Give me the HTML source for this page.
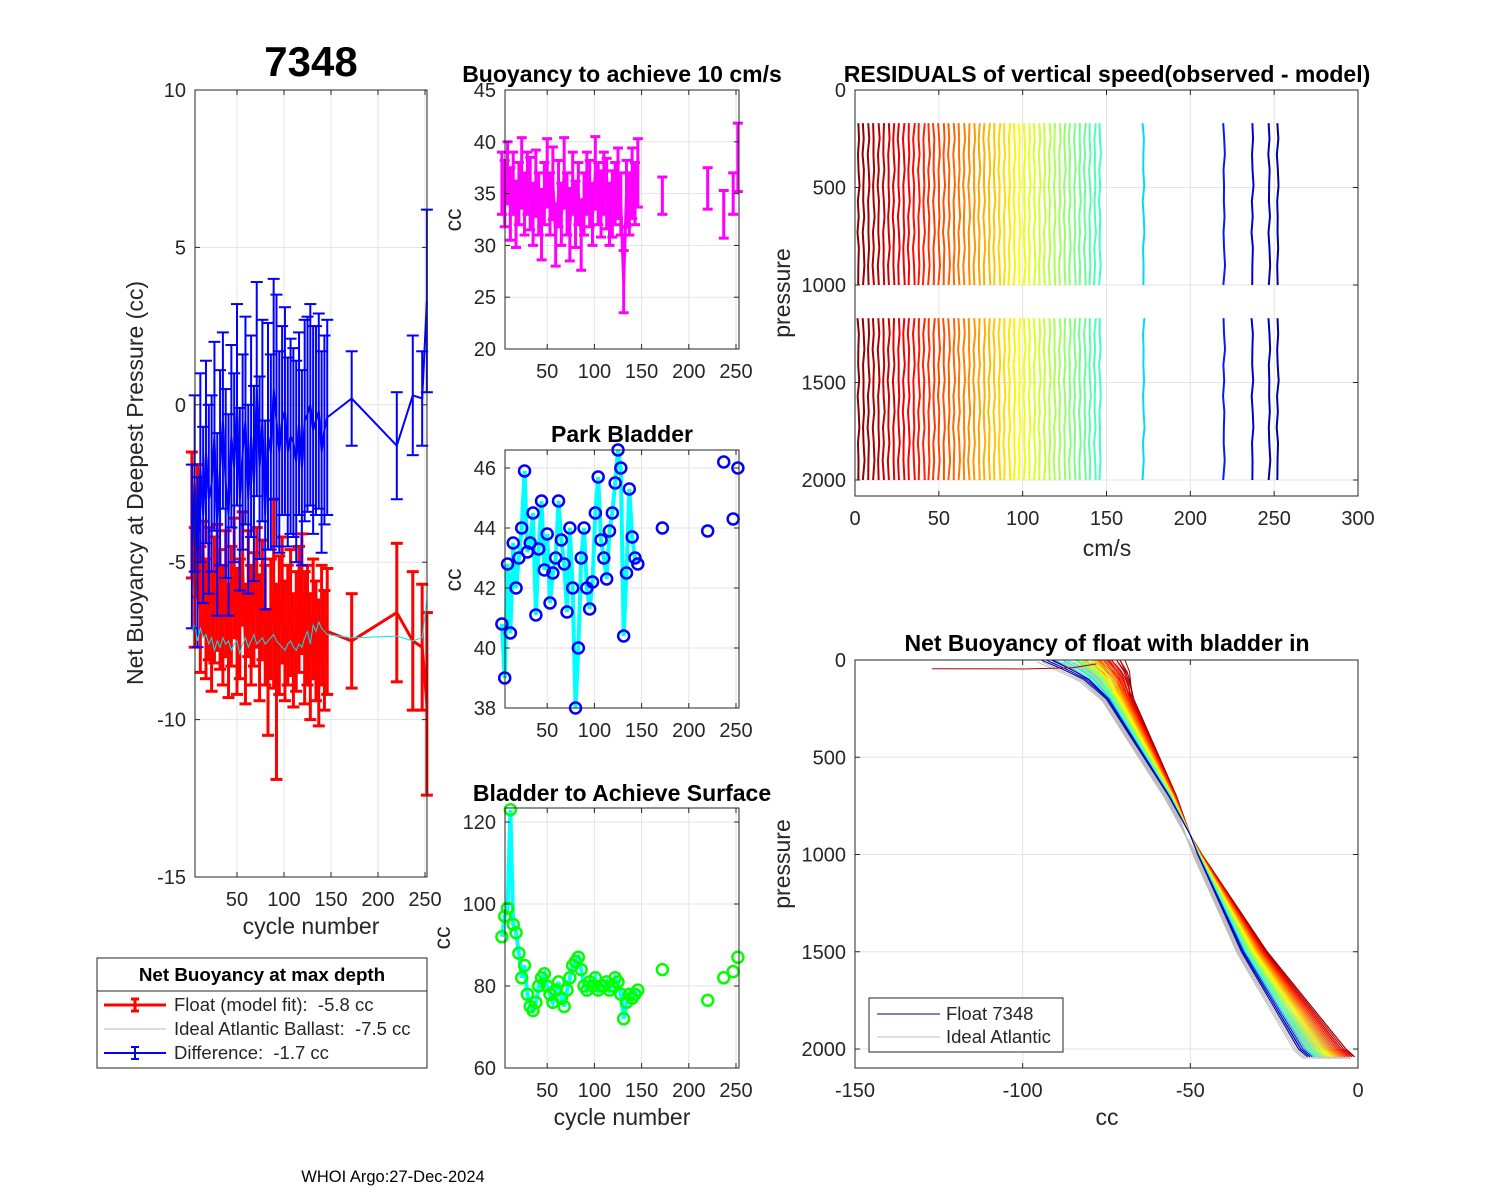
<!DOCTYPE html>
<html><head><meta charset="utf-8"><style>
body{margin:0;background:#fff}
svg{display:block;font-family:"Liberation Sans",Arial,sans-serif}
text{white-space:pre}
</style></head><body>
<svg id="fig" width="1500" height="1200" viewBox="0 0 1500 1200">
<rect width="1500" height="1200" fill="#fff"/>
<g id="root"></g>
</svg>
<script>
// ---- data ----
const cycles=[2,5,8,11,14,17,20,23,26,29,32,35,38,41,44,47,50,53,56,59,62,65,68,71,74,77,80,83,86,89,92,95,98,101,104,107,110,113,116,119,122,125,128,131,134,137,140,143,146,172,220,237,247,252];
const floatVal=[-3.5,-5.8,-4.0,-6.5,-5.5,-6.8,-6.0,-7.2,-6.2,-5.8,-6.5,-7.0,-6.0,-7.5,-6.4,-5.5,-7.2,-6.8,-5.2,-7.6,-6.0,-7.0,-6.5,-5.8,-7.4,-6.2,-7.0,-8.5,-6.8,-6.0,-8.8,-7.0,-6.2,-7.5,-7.0,-6.6,-7.8,-7.2,-6.5,-6.0,-7.4,-7.0,-8.0,-6.8,-7.5,-8.2,-7.0,-7.8,-7.2,-7.5,-6.6,-7.5,-7.7,-9.5];
const floatErr=[2.0,1.9,2.1,2.0,1.8,1.9,2.1,1.9,2.0,2.0,1.9,1.9,2.0,1.8,1.9,1.9,2.0,1.9,1.8,1.9,2.0,1.9,1.8,1.9,2.0,1.9,1.9,2.0,1.9,3.0,3.1,2.2,2.0,1.9,1.9,2.0,1.8,1.9,2.0,1.9,2.1,1.9,2.0,1.9,1.9,2.0,1.9,1.9,2.0,1.5,2.2,2.2,2.0,2.9];
const diffVal=[-4.5,-2.5,-5.0,-2.0,-3.5,-1.5,-3.0,-2.5,-1.0,-3.8,-2.0,-0.5,-2.5,-3.5,-1.0,-2.0,0.0,-3.0,-1.5,-0.5,-3.0,-1.0,-2.5,0.5,-2.0,-0.5,-3.5,-1.0,-1.5,0.5,-0.5,-1.5,-0.5,-0.2,-1.5,-1.0,-1.2,-1.8,-0.6,-2.0,-0.5,-0.3,0.0,-0.8,-0.5,-0.2,-1.5,-0.8,-0.4,0.2,-1.3,0.3,0.2,3.3];
const diffErr=[2.6,2.8,2.7,3.0,2.8,2.9,3.0,2.8,3.0,2.9,3.1,2.8,3.0,3.2,2.9,3.0,3.2,2.9,3.1,3.3,3.0,3.2,3.1,3.4,2.9,3.2,3.0,3.6,3.1,3.5,4.0,3.2,3.0,3.3,3.0,3.1,3.0,3.2,2.9,3.1,3.2,3.1,3.2,3.3,3.0,3.1,3.2,3.0,3.1,1.5,1.7,1.9,1.5,2.9];
const idealVal=[-7.2,-7.0,-7.5,-7.1,-7.4,-7.3,-7.6,-7.4,-7.8,-7.5,-7.7,-7.4,-7.6,-7.5,-7.8,-7.6,-7.5,-7.9,-7.6,-7.4,-7.7,-7.5,-7.3,-7.6,-7.5,-7.4,-7.6,-7.5,-7.4,-7.3,-7.5,-7.6,-7.7,-7.8,-7.6,-7.5,-7.7,-7.8,-7.6,-7.7,-7.4,-7.2,-7.6,-7.0,-7.2,-6.9,-7.1,-7.2,-7.3,-7.4,-7.35,-7.5,-7.4,-6.2];
const buoyVal=[36,35,37,34,36,33,35,37,34,36,35,33,36,34,32,35,37,34,36,31,35,33,37,34,32,36,33,35,31,34,36,35,33,37,35,34,36,35,33,34,35,36,34,26.5,35,34,36,35,37,34.8,35.5,33,35,38.5];
const buoyErr=[3,3.2,3,3.5,3,3.2,3,3.4,3,3,3.5,3,3.2,3,3.4,3,3.3,3,3.5,3,3.2,3,3.4,3,3.5,3,3.2,3,3.4,3,3,3.2,3,3.5,3,3.2,3,3.4,3,3.2,3,3.4,3,3,3.2,3,3.4,3,3.3,1.8,2,2.3,2,3.3];
const parkVal=[40.8,39,42.8,40.5,43.5,42,43,44,45.9,43.2,43.5,44.5,41.1,43.3,44.9,42.6,43.8,41.5,42.5,43,44.9,43.6,42.8,41.2,44,42,38,40,43,44,42,41.3,42.2,44.5,45.7,43.6,43,42.3,43.9,44.5,45.5,46.6,46,40.4,42.5,45.3,43.7,43,42.8,44,43.9,46.2,44.3,46];
const surfVal=[92,97,99,123,95,93,88,82,85,78,75,74,76,80,82,83,80,78,76,79,81,77,75,79,82,85,86,87,84,80,79,81,80,82,79,80,80,81,79,80,82,81,78,72,76,78,77,78,79,84,76.5,82,83.5,87];
const residWiggle=[0,0.4,-0.2,0.1,0.7,-0.3,0.2,-0.5,0.3,0,-0.1,0.5,-0.4,0.2,0.6,-0.2,0.1];
const residPres1=[170,250,330,410,490,570,650,730,810,900,1000];
const residPres2=[1170,1250,1330,1410,1490,1570,1650,1730,1810,1900,2000];
const nbPres=[0,30,60,100,200,300,400,500,700,900,1000,1500,2000,2040];
const nbBase=[-79,-77,-75,-73,-70,-67,-64,-61,-55,-50,-47,-30,-9,-6];
const nbShift=[4,3.5,4,3,3.5,3,3,2.5,3,2.5,2,2.5,2,1.5,2,1,1.5,1,0.5,1,0.5,0,0.5,-0.5,0,-0.5,-1,-0.5,-1,-1.5,-1,-2,-1.5,-2,-2.5,-2,-2.5,-3,-2.5,-3,-3.5,-3,-3.5,-4,-3.5,-4,-4.5,-4,-5,-5,-5.5,-6,-6,-6.5];
const nbShiftTop=[4,6,3,5,2,4,1,3,5,2,0,3,1,-2,2,4,0,-1,3,1,-3,2,0,-2,1,3,-1,0,-4,2,-2,0,1,-3,-1,2,-2,0,-3,1,-1,-2,0,-4,-2,-5,-3,-1,-6,-4,-7,-8,-6,-9];
const legendRows=["Float (model fit):  -5.8 cc","Ideal Atlantic Ballast:  -7.5 cc","Difference:  -1.7 cc"];

// ---- helpers ----
const NS="http://www.w3.org/2000/svg";
const root=document.getElementById('root');
function el(tag,attrs,parent){const e=document.createElementNS(NS,tag);for(const k in attrs)e.setAttribute(k,attrs[k]);(parent||root).appendChild(e);return e;}
function txt(x,y,s,size,anchor,weight,parent,rot,fill){const t=el('text',{x:x,y:y,'font-size':size,'text-anchor':anchor||'middle','font-weight':weight||'normal',fill:fill||'#262626'},parent);if(rot)t.setAttribute('transform','rotate(-90 '+x+' '+y+')');t.textContent=s;return t;}
function lin(d0,d1,r0,r1){return v=>r0+(v-d0)*(r1-r0)/(d1-d0);}
function jet(c){const t=1-c/260;const cl=v=>Math.max(0,Math.min(1,v));const r=cl(1.5-Math.abs(4*t-3)),g=cl(1.5-Math.abs(4*t-2)),b=cl(1.5-Math.abs(4*t-1));return 'rgb('+Math.round(r*255)+','+Math.round(g*255)+','+Math.round(b*255)+')';}
function axes(name,x0,y0,x1,y1,xs,ys,xticks,yticks){
  const g=el('g',{},root);
  
  
  xticks.forEach(v=>{const X=xs(v);el('line',{x1:X,y1:y0,x2:X,y2:y1,stroke:'#e3e3e3','stroke-width':1},g);});
  yticks.forEach(v=>{const Y=ys(v);el('line',{x1:x0,y1:Y,x2:x1,y2:Y,stroke:'#e3e3e3','stroke-width':1},g);});
  return g;
}
function frame(g,x0,y0,x1,y1,xs,ys,xticks,yticks){
  el('rect',{x:x0,y:y0,width:x1-x0,height:y1-y0,fill:'none',stroke:'#262626','stroke-width':1},g);
  xticks.forEach(v=>{const X=xs(v);el('line',{x1:X,y1:y1,x2:X,y2:y1-5,stroke:'#262626'},g);el('line',{x1:X,y1:y0,x2:X,y2:y0+5,stroke:'#262626'},g);
    const t=txt(X,y1+29,String(v),20,'middle','normal',g);});
  yticks.forEach(v=>{const Y=ys(v);el('line',{x1:x0,y1:Y,x2:x0+5,y2:Y,stroke:'#262626'},g);el('line',{x1:x1,y1:Y,x2:x1-5,y2:Y,stroke:'#262626'},g);
    const t=txt(x0-9,Y+7,String(v),20,'end','normal',g);});
}
function errbar(g,X,Ylo,Yhi,color,w,cap){
  el('line',{x1:X,y1:Ylo,x2:X,y2:Yhi,stroke:color,'stroke-width':w},g);
  el('line',{x1:X-cap,y1:Ylo,x2:X+cap,y2:Ylo,stroke:color,'stroke-width':w},g);
  el('line',{x1:X-cap,y1:Yhi,x2:X+cap,y2:Yhi,stroke:color,'stroke-width':w},g);
}
const TS=23;

// ---- Panel 1 ----
(function(){
  const x0=195,y0=90,x1=427,y1=877;
  const xs=lin(0,250,190,425), ys=lin(10,-15,90,877);
  const xt=[50,100,150,200,250], yt=[10,5,0,-5,-10,-15];
  const g=axes('net-buoyancy-axes',x0,y0,x1,y1,xs,ys,xt,yt);
  const gr=el('g',{},g);
  
  
  cycles.forEach((c,i)=>errbar(gr,xs(c),ys(floatVal[i]-floatErr[i]),ys(floatVal[i]+floatErr[i]),'#ff0000',3,6));
  el('polyline',{points:cycles.map((c,i)=>xs(c)+','+ys(floatVal[i])).join(' '),fill:'none',stroke:'#ff0000','stroke-width':3},gr);
  const gb=el('g',{},g);
  
  
  cycles.forEach((c,i)=>errbar(gb,xs(c),ys(diffVal[i]-diffErr[i]),ys(diffVal[i]+diffErr[i]),'#0000ff',2,6));
  el('polyline',{points:cycles.map((c,i)=>xs(c)+','+ys(diffVal[i])).join(' '),fill:'none',stroke:'#0000ff','stroke-width':2},gb);
  const ic=el('polyline',{points:cycles.map((c,i)=>xs(c)+','+ys(idealVal[i])).join(' '),fill:'none',stroke:'#00e5e5','stroke-width':1},g);
  
  
  frame(g,x0,y0,x1,y1,xs,ys,xt,yt);
  const t=txt(311,76,'7348',42,'middle','bold',g,false,'#000');
  const yl=txt(143,483,'Net Buoyancy at Deepest Pressure (cc)',TS,'middle','normal',g,true);
  const xl=txt(311,934,'cycle number',TS,'middle','normal',g);
  const lg=el('g',{},root);
  
  
  el('rect',{x:97,y:958,width:330,height:110,fill:'#fff',stroke:'#262626'},lg);
  el('line',{x1:97,y1:991,x2:427,y2:991,stroke:'#262626'},lg);
  const lt=txt(262,981,'Net Buoyancy at max depth',18.8,'middle','bold',lg,false,'#000');
  const cols=['#ff0000','#b8b8b8','#0000ff'],ws=[3,1,2];
  legendRows.forEach((s,i)=>{const Y=1005+i*24;
    el('line',{x1:104,y1:Y,x2:166,y2:Y,stroke:cols[i],'stroke-width':ws[i]},lg);
    if(i!==1)errbar(lg,135,Y-6,Y+6,cols[i],ws[i],4);
    const e=txt(174,Y+6,s,18.5,'start','normal',lg);});
})();

// ---- Panel 2 ----
(function(){
  const x0=505,y0=90,x1=739,y1=349;
  const xs=lin(0,250,500,736), ys=lin(45,20,90,349);
  const xt=[50,100,150,200,250], yt=[45,40,35,30,25,20];
  const g=axes('buoyancy-10cms-axes',x0,y0,x1,y1,xs,ys,xt,yt);
  const gm=el('g',{},g);
  
  
  cycles.forEach((c,i)=>errbar(gm,xs(c),ys(buoyVal[i]-buoyErr[i]),ys(buoyVal[i]+buoyErr[i]),'#ff00ff',3,5));
  const pl=cycles.slice(0,49);
  el('polyline',{points:pl.map((c,i)=>xs(c)+','+ys(buoyVal[i])).join(' '),fill:'none',stroke:'#ff00ff','stroke-width':3},gm);
  frame(g,x0,y0,x1,y1,xs,ys,xt,yt);
  const t=txt(622,82,'Buoyancy to achieve 10 cm/s',TS,'middle','bold',g,false,'#000');
  const yl=txt(461,220,'cc',TS,'middle','normal',g,true);
})();

// ---- Panel 3 ----
(function(){
  const x0=505,y0=450,x1=739,y1=708;
  const xs=lin(0,250,500,736), ys=lin(46,38,468,708);
  const xt=[50,100,150,200,250], yt=[46,44,42,40,38];
  const g=axes('park-bladder-axes',x0,y0,x1,y1,xs,ys,xt,yt);
  const pl=cycles.slice(0,49);
  const ln=el('polyline',{points:pl.map((c,i)=>xs(c)+','+ys(parkVal[i])).join(' '),fill:'none',stroke:'#00ffff','stroke-width':4},g);
  
  
  cycles.forEach((c,i)=>{const m=el('circle',{cx:xs(c),cy:ys(parkVal[i]),r:5.5,fill:'none',stroke:'#0000ff','stroke-width':2.5},g);
    
    });
  frame(g,x0,y0,x1,y1,xs,ys,xt,yt);
  const t=txt(622,442,'Park Bladder',TS,'middle','bold',g,false,'#000');
  const yl=txt(461,580,'cc',TS,'middle','normal',g,true);
})();

// ---- Panel 4 ----
(function(){
  const x0=505,y0=808,x1=739,y1=1068;
  const xs=lin(0,250,500,736), ys=lin(120,60,822,1068);
  const xt=[50,100,150,200,250], yt=[120,100,80,60];
  const g=axes('surface-bladder-axes',x0,y0,x1,y1,xs,ys,xt,yt);
  const pl=cycles.slice(0,49);
  const ln=el('polyline',{points:pl.map((c,i)=>xs(c)+','+ys(surfVal[i])).join(' '),fill:'none',stroke:'#00ffff','stroke-width':4},g);
  
  
  cycles.forEach((c,i)=>{const m=el('circle',{cx:xs(c),cy:ys(surfVal[i]),r:5.5,fill:'none',stroke:'#00ff00','stroke-width':2.5},g);
    
    });
  frame(g,x0,y0,x1,y1,xs,ys,xt,yt);
  const t=txt(622,801,'Bladder to Achieve Surface',TS,'middle','bold',g,false,'#000');
  const yl=txt(450,938,'cc',TS,'middle','normal',g,true);
  const xl=txt(622,1125,'cycle number',TS,'middle','normal',g);
})();

// ---- Panel 5 ----
(function(){
  const x0=855,y0=90,x1=1358,y1=496;
  const xs=lin(0,300,855,1358), ys=lin(0,2000,90,480);
  const xt=[0,50,100,150,200,250,300], yt=[0,500,1000,1500,2000];
  const g=axes('residuals-axes',x0,y0,x1,y1,xs,ys,xt,yt);
  const W=residWiggle.length;
  cycles.forEach((c,i)=>{const col=jet(c);
    [residPres1,residPres2].forEach((P,j)=>{
      const off=(i*5+j*7)%W;
      const l=el('polyline',{points:P.map((p,k)=>xs(c+residWiggle[(k+off)%W])+','+ys(p)).join(' '),fill:'none',stroke:col,'stroke-width':2},g);
      
      
    });});
  frame(g,x0,y0,x1,y1,xs,ys,xt,yt);
  const t=txt(1107,82,'RESIDUALS of vertical speed(observed - model)',TS,'middle','bold',g,false,'#000');
  const yl=txt(790,293,'pressure',TS,'middle','normal',g,true);
  const xl=txt(1107,556,'cm/s',TS,'middle','normal',g);
})();

// ---- Panel 6 ----
(function(){
  const x0=855,y0=660,x1=1358,y1=1068;
  const xs=lin(-150,0,855,1358), ys=lin(0,2000,660,1049);
  const xt=[-150,-100,-50,0], yt=[0,500,1000,1500,2000];
  const g=axes('net-buoyancy-profile-axes',x0,y0,x1,y1,xs,ys,xt,yt);
  const cp=el('clipPath',{id:'cp6'},g);el('rect',{x:x0,y:y0,width:x1-x0,height:y1-y0},cp);
  const gl=el('g',{'clip-path':'url(#cp6)'},g);
  function prof(i){return nbPres.map((p,k)=>{const f=Math.abs(p-900)/900*(p>900?1.1:1);const top=p<150?nbShiftTop[i]*(1-p/150):0;const v=nbBase[k]+nbShift[i]*f+top;return xs(Math.min(v,-1))+','+ys(p);}).join(' ');}
  cycles.forEach((c,i)=>{
    const gray=el('polyline',{points:prof(i),fill:'none',stroke:'#bdbdbd','stroke-width':1,transform:'translate(-4,2)'},gl);
    
    
  });
  cycles.forEach((c,i)=>{
    const l=el('polyline',{points:prof(i),fill:'none',stroke:jet(c),'stroke-width':1},gl);
    
    
  });
  const sp=el('polyline',{points:[[-127,45],[-100,46],[-85,40],[-78,20]].map(d=>xs(d[0])+','+ys(d[1])).join(' '),fill:'none',stroke:'#b00000','stroke-width':1},gl);
  
  
  frame(g,x0,y0,x1,y1,xs,ys,xt,yt);
  const t=txt(1107,651,'Net Buoyancy of float with bladder in',TS,'middle','bold',g,false,'#000');
  const yl=txt(790,864,'pressure',TS,'middle','normal',g,true);
  const xl=txt(1107,1125,'cc',TS,'middle','normal',g);
  const lg=el('g',{},g);
  
  
  el('rect',{x:869,y:998,width:194,height:54,fill:'#fff',stroke:'#262626'},lg);
  el('line',{x1:877,y1:1014,x2:940,y2:1014,stroke:'#00008b'},lg);
  el('line',{x1:877,y1:1037,x2:940,y2:1037,stroke:'#bdbdbd'},lg);
  const a=txt(946,1020,'Float 7348',18.5,'start','normal',lg);
  const b=txt(946,1043,'Ideal Atlantic',18.5,'start','normal',lg);
})();

const ft=txt(393,1182,'WHOI Argo:27-Dec-2024',16.5,'middle','normal',root,false,'#000');


</script>
</body></html>
